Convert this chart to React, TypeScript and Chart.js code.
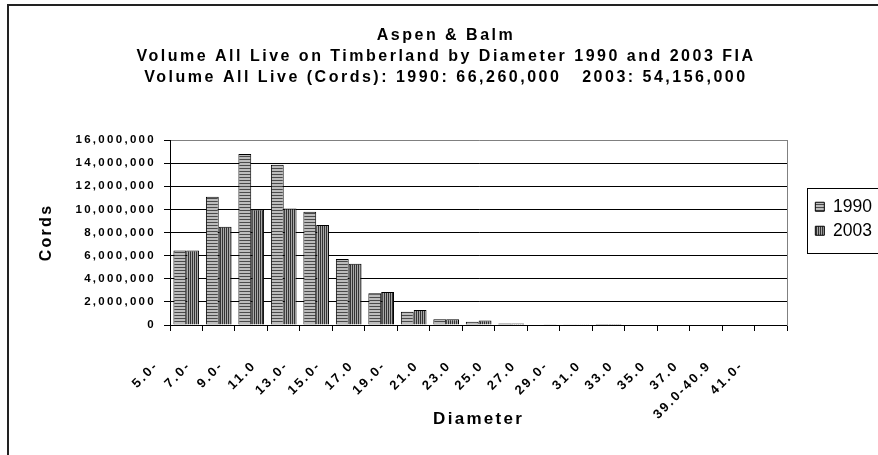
import React, { useEffect, useRef } from 'react';
import { Chart, registerables } from 'chart.js';

Chart.register(...registerables);

const categories = [
  '5.0-', '7.0-', '9.0-', '11.0', '13.0-', '15.0-', '17.0', '19.0-', '21.0', '23.0',
  '25.0', '27.0', '29.0-', '31.0', '33.0', '35.0', '37.0', '39.0-40.9', '41.0-',
];
const series1990 = [
  6450000, 11100000, 14800000, 13850000, 9800000, 5700000, 2750000, 1150000, 500000, 280000,
  120000, 40000, 20000, 10000, 0, 0, 0, 0, 0,
];
const series2003 = [
  6450000, 8500000, 10000000, 10080000, 8650000, 5300000, 2850000, 1300000, 500000, 400000,
  140000, 30000, 20000, 10000, 0, 0, 0, 0, 0,
];
const seriesNames = ['1990', '2003'];
const titleLines = [
  'Aspen & Balm',
  'Volume All Live on Timberland by Diameter 1990 and 2003 FIA',
  'Volume All Live (Cords): 1990: 66,260,000   2003: 54,156,000',
];
const xTitle = 'Diameter';
const yTitle = 'Cords';
const yMin = 0;
const yMax = 16000000;
const yStep = 2000000;

const FONT = "'Liberation Sans', Arial, sans-serif";

function makePattern(kind: 'h' | 'v'): any {
  const c = document.createElement('canvas');
  const g = c.getContext('2d')!;
  if (kind === 'h') {
    c.width = 1;
    c.height = 3;
    g.fillStyle = '#bcbcbc';
    g.fillRect(0, 0, 1, 3);
    g.fillStyle = '#4a4a4a';
    g.fillRect(0, 0, 1, 1);
  } else {
    c.width = 2;
    c.height = 1;
    g.fillStyle = '#a8a8a8';
    g.fillRect(0, 0, 2, 1);
    g.fillStyle = '#333333';
    g.fillRect(0, 0, 1, 1);
  }
  return g.createPattern(c, 'repeat');
}

export default function App() {
  const ref = useRef<HTMLCanvasElement>(null);

  useEffect(() => {
    const canvas = ref.current!;
    const pat1990 = makePattern('h');
    const pat2003 = makePattern('v');

    const spacingPlugin: any = {
      id: 'spacingAndFrame',
      afterInit(chart: any) {
        const wrap = (box: any, sp: string) => {
          if (!box) return;
          const orig = box.draw.bind(box);
          box.draw = (...a: any[]) => {
            const c: any = chart.ctx;
            const prev = c.letterSpacing;
            c.letterSpacing = sp;
            orig(...a);
            c.letterSpacing = prev;
          };
        };
        wrap(chart.legend, '0px');
        wrap(chart.titleBlock, '2.5px');
      },
      beforeDraw(chart: any) {
        (chart.ctx as any).letterSpacing = '2.3px';
      },
      afterDraw(chart: any) {
        const lg = chart.legend;
        if (!lg || !lg.legendHitBoxes || !lg.legendHitBoxes.length) return;
        const hb = lg.legendHitBoxes;
        const first = hb[0];
        const last = hb[hb.length - 1];
        const ctx = chart.ctx;
        const x = Math.round(first.left - 8) + 0.5;
        const y = Math.round(first.top - 10) + 0.5;
        const b = Math.round(last.top + last.height + 13) + 0.5;
        ctx.save();
        ctx.strokeStyle = '#000';
        ctx.lineWidth = 1;
        ctx.strokeRect(x, y, 300, b - y);
        ctx.restore();
      },
    };

    const chart: any = new Chart(canvas, {
      type: 'bar',
      data: {
        labels: categories,
        datasets: [
          {
            label: seriesNames[0],
            data: series1990,
            backgroundColor: pat1990,
            borderColor: '#000',
            borderWidth: 1,
            yAxisID: 'y',
          },
          {
            label: seriesNames[1],
            data: series2003,
            backgroundColor: pat2003,
            borderColor: '#000',
            borderWidth: 1,
            yAxisID: 'y',
          },
        ],
      },
      options: {
        animation: false,
        responsive: false,
        devicePixelRatio: 1,
        layout: { padding: { left: 10, right: 18, top: 0, bottom: 0 } },
        datasets: { bar: { categoryPercentage: 0.79, barPercentage: 1 } } as any,
        plugins: {
          title: {
            display: true,
            text: titleLines,
            color: '#000',
            font: { family: FONT, size: 16, weight: 'bold', lineHeight: '21px' } as any,
            padding: { top: 25, bottom: 52 },
          },
          legend: {
            position: 'right',
            align: 'start',
            fullSize: false,
            labels: {
              boxWidth: 9,
              boxHeight: 9,
              padding: 6.5,
              color: '#000',
              font: { family: FONT, size: 17.5 },
            },
            title: {
              display: true,
              text: ' ',
              padding: 0,
              font: { size: 10, lineHeight: '51.5px' } as any,
            },
          },
          tooltip: { enabled: false },
        },
        scales: {
          x: {
            position: 'bottom',
            grid: {
              offset: true,
              drawOnChartArea: false,
              drawTicks: true,
              tickLength: 6,
              color: '#000',
            },
            border: { color: '#000', width: 1 },
            ticks: {
              autoSkip: false,
              maxRotation: 45,
              minRotation: 45,
              padding: 27,
              labelOffset: -29.5,
              color: '#000',
              font: { family: FONT, size: 13, weight: 'bold' },
            },
            title: {
              display: true,
              text: xTitle,
              color: '#000',
              font: { family: FONT, size: 17, weight: 'bold' },
              padding: { top: 0, bottom: 25 },
            },
            afterFit: (s: any) => {
              s.height = 130;
            },
          },
          y: {
            position: 'left',
            min: yMin,
            max: yMax,
            ticks: {
              stepSize: yStep,
              padding: 8,
              color: '#000',
              font: { family: FONT, size: 11.5, weight: 'bold' },
              callback: (v: any) => Number(v).toLocaleString('en-US'),
            },
            grid: {
              color: (c: any) => (c.tick && c.tick.value === yMax ? '#808080' : '#000'),
              tickColor: '#000',
              tickLength: 6,
              lineWidth: 1,
            },
            border: { color: '#000', width: 1 },
            title: {
              display: true,
              text: yTitle,
              color: '#000',
              font: { family: FONT, size: 16, weight: 'bold' },
              padding: { top: 27.4, bottom: 0 },
            },
            afterFit: (s: any) => {
              s.width = 160;
            },
          },
          y2: {
            position: 'right',
            min: yMin,
            max: yMax,
            ticks: { display: false },
            grid: { drawOnChartArea: false, drawTicks: false },
            border: { color: '#808080', width: 1 },
            afterFit: (s: any) => {
              s.width = 21.5;
            },
          },
        } as any,
      },
      plugins: [spacingPlugin],
    });

    return () => chart.destroy();
  }, []);

  return (
    <>
      <div
        style={{
          position: 'fixed',
          left: 7,
          top: 4,
          width: 2000,
          height: 2000,
          borderLeft: '2px solid #222',
          borderTop: '2px solid #222',
        }}
      />
      <canvas
        ref={ref}
        width={900}
        height={455}
        style={{ position: 'fixed', left: 0, top: 0, width: 900, height: 455 }}
      />
    </>
  );
}
